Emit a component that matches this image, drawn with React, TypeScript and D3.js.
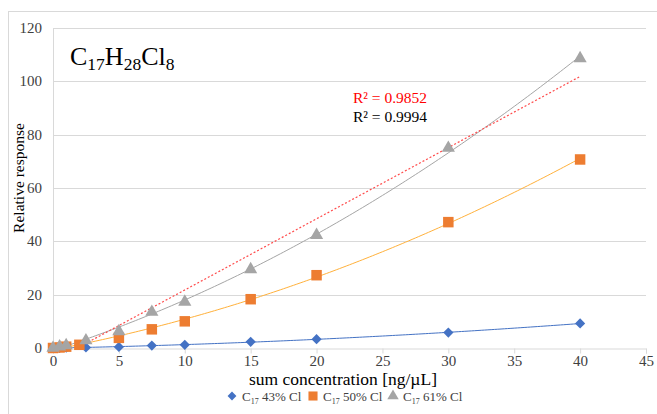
import React, { useEffect, useRef } from "react";
import * as d3 from "d3";

// concentrations [ng/uL] and relative responses
const xs43 = [0, 0.5, 1, 2.5, 5, 7.5, 10, 15, 20, 30, 40];
const ys43 = [0, 0, 0.1, 0.2, 0.4, 0.9, 1.2, 2.3, 3.3, 5.8, 9.2];
const xs50 = [0, 0.5, 1, 2, 5, 7.5, 10, 15, 20, 30, 40];
const ys50 = [0, 0.2, 0.5, 1.2, 3.8, 7, 10, 18.3, 27.3, 47.2, 70.7];
const xs61 = [0, 0.5, 1, 2.5, 5, 7.5, 10, 15, 20, 30, 40];
const ys61 = [0, 0.5, 1, 2.8, 6.2, 13.5, 17.3, 29.5, 42.3, 75, 108.6];

const xTicks = [0, 5, 10, 15, 20, 25, 30, 35, 40, 45];
const yTicks = [0, 20, 40, 60, 80, 100, 120];
const r2Labels = ["R² = 0.9852", "R² = 0.9994"];

const seriesList = [
  { name: "43% Cl", xs: xs43, ys: ys43, color: "#4472C4", trend: "#4472C4", shape: "diamond" },
  { name: "50% Cl", xs: xs50, ys: ys50, color: "#ED7D31", trend: "#FFB13B", shape: "square" },
  { name: "61% Cl", xs: xs61, ys: ys61, color: "#A5A5A5", trend: "#A5A5A5", shape: "triangle" },
];

// least squares polynomial fit (order 1 or 2)
function polyFit(xs: number[], ys: number[], order: number) {
  const n = order + 1;
  const A: number[][] = [];
  for (let i = 0; i < n; i++) {
    A.push([]);
    for (let j = 0; j < n; j++) A[i].push(d3.sum(xs, (x) => Math.pow(x, i + j)));
    A[i].push(d3.sum(xs, (x, k) => Math.pow(x, i) * ys[k]));
  }
  for (let i = 0; i < n; i++) {
    for (let k = i + 1; k < n; k++) {
      const f = A[k][i] / A[i][i];
      for (let j = i; j <= n; j++) A[k][j] -= f * A[i][j];
    }
  }
  const c = new Array(n).fill(0);
  for (let i = n - 1; i >= 0; i--) {
    let s = A[i][n];
    for (let j = i + 1; j < n; j++) s -= A[i][j] * c[j];
    c[i] = s / A[i][i];
  }
  return (x: number) => c.reduce((acc, ci, i) => acc + ci * Math.pow(x, i), 0);
}

const font = "Liberation Serif, Times New Roman, serif";

// marker path + rotation for each shape
function marker(shape: string, scale: number) {
  if (shape === "diamond") return { d: d3.symbol(d3.symbolSquare, 52 * scale)(), rot: 45 };
  if (shape === "square") return { d: d3.symbol(d3.symbolSquare, 110 * scale)(), rot: 0 };
  return { d: d3.symbol(d3.symbolTriangle, 75 * scale)(), rot: 0 };
}

export default function App() {
  const svgRef = useRef<SVGSVGElement>(null);

  useEffect(() => {
    const width = 657;
    const height = 414;
    const margin = { top: 28, right: 11, bottom: 66, left: 53 };

    const svg = d3.select(svgRef.current);
    svg.selectAll("*").remove();

    const x = d3.scaleLinear().domain([0, 45]).range([margin.left, width - margin.right]);
    const y = d3.scaleLinear().domain([0, 120]).range([height - margin.bottom, margin.top]);

    svg.append("rect")
      .attr("x", 8.5).attr("y", 11.5)
      .attr("width", 660).attr("height", 420)
      .attr("fill", "white").attr("stroke", "#D9D9D9");

    svg.append("defs").append("clipPath").attr("id", "plotclip")
      .append("rect")
      .attr("x", margin.left).attr("y", margin.top)
      .attr("width", x(45) - margin.left).attr("height", y(0) - margin.top);

    // gridlines
    svg.append("g")
      .selectAll("line")
      .data(yTicks.filter((t) => t > 0))
      .enter()
      .append("line")
      .attr("x1", margin.left).attr("x2", x(45))
      .attr("y1", (d) => Math.round(y(d)) + 0.5).attr("y2", (d) => Math.round(y(d)) + 0.5)
      .attr("stroke", "#D9D9D9");

    svg.append("line")
      .attr("x1", margin.left + 0.5).attr("x2", margin.left + 0.5)
      .attr("y1", margin.top).attr("y2", y(0))
      .attr("stroke", "#D9D9D9");

    // x axis
    const xAxis = svg.append("g")
      .attr("transform", `translate(0, ${Math.round(y(0)) + 0.5})`)
      .call(d3.axisBottom(x).tickValues(xTicks).tickSize(5).tickPadding(2));
    xAxis.attr("font-family", font).attr("font-size", 15);
    xAxis.select(".domain").attr("stroke", "#D9D9D9");
    xAxis.selectAll(".tick line").attr("stroke", "#D9D9D9");
    xAxis.selectAll("text").attr("fill", "#404040");

    // y labels
    svg.append("g")
      .selectAll("text")
      .data(yTicks)
      .enter()
      .append("text")
      .attr("x", 42)
      .attr("y", (d) => y(d) + 5)
      .attr("text-anchor", "end")
      .attr("font-family", font).attr("font-size", 15)
      .attr("fill", "#404040")
      .text((d) => d);

    const plot = svg.append("g").attr("clip-path", "url(#plotclip)");

    // trendlines
    seriesList.forEach((s) => {
      const f = polyFit(s.xs, s.ys, 2);
      const pts = d3.range(0, 40.01, 0.25);
      plot.append("path")
        .attr("d", d3.line<number>().x((d) => x(d)).y((d) => y(f(d)))(pts))
        .attr("fill", "none").attr("stroke", s.trend).attr("stroke-width", 1);
    });
    const lin = polyFit(xs61, ys61, 1);
    plot.append("path")
      .attr("d", d3.line<number>().x((d) => x(d)).y((d) => y(lin(d)))([0, 40]))
      .attr("fill", "none").attr("stroke", "#FF4B4B")
      .attr("stroke-width", 1.2).attr("stroke-dasharray", "2,2");

    // markers
    seriesList.forEach((s) => {
      const m = marker(s.shape, 1);
      svg.append("g")
        .selectAll("path")
        .data(s.xs)
        .enter()
        .append("path")
        .attr("d", m.d)
        .attr("transform", (d, i) => `translate(${x(d)}, ${y(s.ys[i])}) rotate(${m.rot})`)
        .attr("fill", s.color);
    });

    // title
    const title = svg.append("text")
      .attr("x", 70).attr("y", 65)
      .attr("font-family", font).attr("font-size", 26).attr("fill", "black");
    title.append("tspan").text("C");
    title.append("tspan").attr("dy", 5).attr("font-size", 17.5).text("17");
    title.append("tspan").attr("dy", -5).text("H");
    title.append("tspan").attr("dy", 5).attr("font-size", 17.5).text("28");
    title.append("tspan").attr("dy", -5).text("Cl");
    title.append("tspan").attr("dy", 5).attr("font-size", 17.5).text("8");

    // R² labels
    svg.append("text")
      .attr("x", 353).attr("y", 103)
      .attr("font-family", font).attr("font-size", 15.5).attr("fill", "#FF0000")
      .text(r2Labels[0]);
    svg.append("text")
      .attr("x", 353).attr("y", 122)
      .attr("font-family", font).attr("font-size", 15.5).attr("fill", "#000")
      .text(r2Labels[1]);

    // axis titles
    svg.append("text")
      .attr("text-anchor", "middle")
      .attr("transform", `translate(24, 178) rotate(-90)`)
      .attr("font-family", font).attr("font-size", 15.5).attr("fill", "#000")
      .text("Relative response");
    svg.append("text")
      .attr("x", 343).attr("y", 385)
      .attr("text-anchor", "middle")
      .attr("font-family", font).attr("font-size", 17.5).attr("fill", "#000")
      .text("sum concentration [ng/µL]");

    // legend
    const legendX = [232, 313, 393];
    seriesList.forEach((s, i) => {
      const g = svg.append("g").attr("transform", `translate(${legendX[i]}, 396)`);
      const m = marker(s.shape, 0.75);
      g.append("path").attr("d", m.d).attr("transform", `rotate(${m.rot})`).attr("fill", s.color);
      const t = g.append("text").attr("x", 10).attr("y", 5)
        .attr("font-family", font).attr("font-size", 13).attr("fill", "#404040");
      t.append("tspan").text("C");
      t.append("tspan").attr("dy", 3).attr("font-size", 8).text("17");
      t.append("tspan").attr("dy", -3).text(" " + s.name);
    });
  }, []);

  return (
    <svg ref={svgRef} width={657} height={414}
      style={{ position: "absolute", left: 0, top: 0, display: "block" }} />
  );
}
